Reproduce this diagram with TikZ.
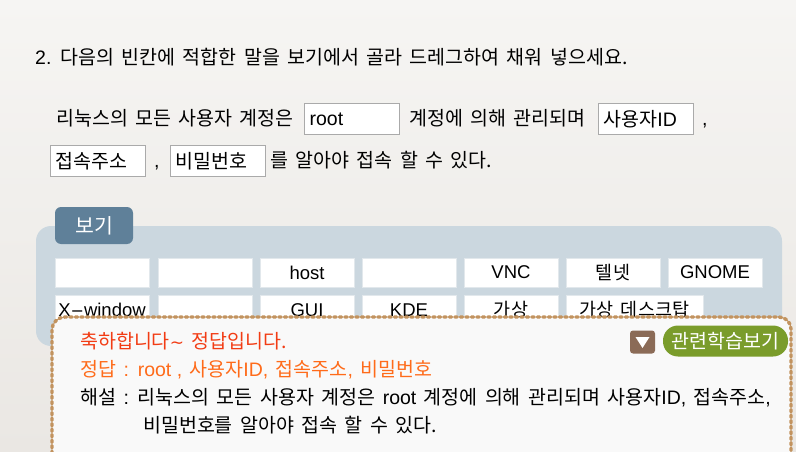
\documentclass[tikz,border=0pt]{standalone}
\usepackage{fontspec}
\setmainfont{Noto Sans CJK KR}[WordSpace=1.7]
\newfontfamily\lat{Liberation Sans}
\definecolor{bgtop}{HTML}{F6F5F3}
\definecolor{bgbot}{HTML}{EAE7E3}
\definecolor{panel}{HTML}{CBD7DF}
\definecolor{tab}{HTML}{5F8099}
\definecolor{cellline}{HTML}{E2E8EC}
\definecolor{boxline}{HTML}{AAAAAA}
\definecolor{ovfill}{HTML}{F9F9F9}
\definecolor{ovline}{HTML}{C2935F}
\definecolor{redtxt}{HTML}{F23C14}
\definecolor{orangetxt}{HTML}{FF6B1A}
\definecolor{browni}{HTML}{8B6B57}
\definecolor{greeni}{HTML}{7A9C2B}
\tikzset{
  txt/.style={anchor=west, inner sep=0pt, font=\fontsize{19.5}{23}\selectfont, text=black},
  ansbox/.style={draw=boxline, line width=1.2pt, fill=white, anchor=north west,
    minimum height=31pt, text width=85pt, align=left, inner xsep=5pt, inner ysep=0pt,
    font=\fontsize{19.5}{23}\selectfont},
  cell/.style={fill=white, draw=cellline, line width=0.6pt, minimum width=94pt,
    minimum height=29pt, inner sep=0pt, font=\fontsize{18.5}{22}\selectfont},
}
\begin{document}
\begin{tikzpicture}[x=1pt,y=-1pt]
\useasboundingbox (0,0) rectangle (796,452);
% background
\shade[top color=bgtop, bottom color=bgbot] (0,0) rectangle (796,452);

% question
\node[txt] (q) at (35,57) {{\lat 2.} 다음의 빈칸에 적합한 말을 보기에서 골라 드레그하여 채워 넣으세요.};

% line 1
\node[txt] (l1a) at (56,118) {리눅스의 모든 사용자 계정은};
\node[ansbox] (b1) at (304,103) {{\lat root}};
\node[txt] (l1b) at (409,118) {계정에 의해 관리되며};
\node[ansbox] (b2) at (598,103) {사용자{\lat ID}};
\node[txt] (c1) at (702,126) {{\lat ,}};
% line 2
\node[ansbox] (b3) at (50,145) {접속주소};
\node[txt] (c2) at (154,168) {{\lat ,}};
\node[ansbox] (b4) at (170,145) {비밀번호};
\node[txt] (l2) at (270,160) {를 알아야 접속 할 수 있다.};

% panel
\fill[panel, rounded corners=15pt] (36,226) rectangle (782,346);
\node[fill=tab, rounded corners=6pt, minimum width=78pt, minimum height=37pt, inner sep=0pt,
  text=white, font=\fontsize{20.5}{24}\selectfont] (tabn) at (94,225.5) {보기};

% cells row 1
\node[cell] (r1c1) at (102,272.5) {};
\node[cell] (r1c2) at (205,272.5) {};
\node[cell] (r1c3) at (307,272.5) {\lat host};
\node[cell] (r1c4) at (409,272.5) {};
\node[cell] (r1c5) at (511,272.5) {\lat VNC};
\node[cell] (r1c6) at (613,272.5) {텔넷};
\node[cell] (r1c7) at (715,272.5) {\lat GNOME};
% cells row 2
\node[cell] (r2c1) at (102,310) {\lat X{\fontspec{DejaVu Sans}\fontsize{16}{20}\selectfont−}window};
\node[cell] (r2c2) at (205,310) {};
\node[cell] (r2c3) at (307,310) {\lat GUI};
\node[cell] (r2c4) at (409,310) {\lat KDE};
\node[cell] (r2c5) at (511,310) {가상};
\node[cell, minimum width=137pt] (r2c6) at (634.5,310) {가상 데스크탑};

% overlay
\path[fill=ovfill] (52,470) -- (52,330) arc[start angle=180, end angle=270, radius=13] -- (779,317)
  arc[start angle=270, end angle=360, radius=12] -- (791,470) -- cycle;
\draw[ovline, line width=3.4pt, line cap=round, dash pattern=on 2.5pt off 3pt]
  (52,470) -- (52,330) arc[start angle=180, end angle=270, radius=13] -- (779,317)
  arc[start angle=270, end angle=360, radius=12] -- (791,470);

\node[txt, text=redtxt] (cong) at (80,341) {축하합니다{\fontspec{DejaVu Sans}\fontsize{17}{20}\selectfont ∼} 정답입니다.};
\node[txt, text=orangetxt] (ans) at (80,370) {정답 {\lat :} {\lat root ,} 사용자{\lat ID,} 접속주소{\lat ,} 비밀번호};
\node[txt] (exp1) at (80,398) {해설 {\lat :} 리눅스의 모든 사용자 계정은 {\lat root} 계정에 의해 관리되며 사용자{\lat ID,} 접속주소{\lat ,}};
\node[txt] (exp2) at (143,425) {비밀번호를 알아야 접속 할 수 있다.};

% icons
\node[fill=browni, rounded corners=3pt, minimum width=25pt, minimum height=23pt, inner sep=0pt] (tri) at (642.5,342) {};
\fill[white] ([xshift=-7pt,yshift=5pt]tri.center) -- ([xshift=7pt,yshift=5pt]tri.center) -- ([yshift=-6pt]tri.center) -- cycle;
\node[fill=greeni, rounded corners=15pt, minimum width=125pt, minimum height=31pt, inner sep=0pt,
  text=white, font=\fontsize{19.5}{23}\selectfont] (rel) at (725.5,341) {관련학습보기};
\end{tikzpicture}
\end{document}
